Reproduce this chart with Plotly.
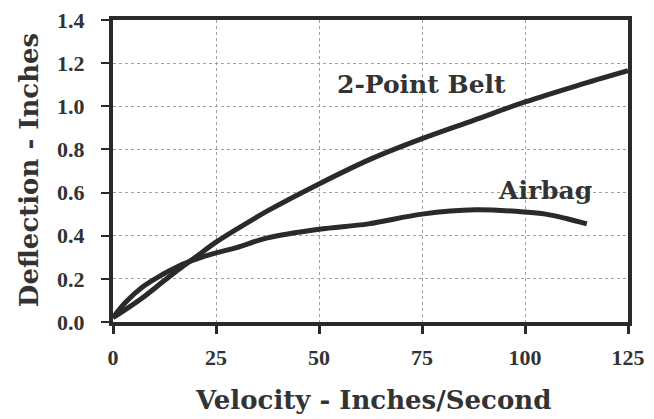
import plotly.graph_objects as go

belt_x = [0, 4, 7, 12, 16, 20, 25, 30, 37.5, 50, 62.5, 75, 87.5, 100, 112.5, 125]
belt_y = [0.02, 0.07, 0.11, 0.185, 0.245, 0.30, 0.37, 0.43, 0.515, 0.64, 0.755, 0.85, 0.935, 1.02, 1.095, 1.165]

airbag_x = [0, 3, 7, 12, 16, 20, 25, 30, 37.5, 50, 62, 75, 88, 100, 105, 110, 115]
airbag_y = [0.02, 0.09, 0.16, 0.22, 0.26, 0.29, 0.32, 0.345, 0.39, 0.43, 0.455, 0.50, 0.52, 0.51, 0.50, 0.48, 0.455]

x_ticks = [0, 25, 50, 75, 100, 125]
y_ticks = [0.0, 0.2, 0.4, 0.6, 0.8, 1.0, 1.2, 1.4]

ink = "#2a2a2a"
txt = "#333333"
tickfont = "Liberation Serif"
titlefont = "DejaVu Serif"

fig = go.Figure()
fig.add_trace(go.Scatter(x=belt_x, y=belt_y, mode="lines", line=dict(color=ink, width=5, shape="spline"),
                         name="2-Point Belt", showlegend=False))
fig.add_trace(go.Scatter(x=airbag_x, y=airbag_y, mode="lines", line=dict(color=ink, width=5, shape="spline"),
                         name="Airbag", showlegend=False))

fig.add_annotation(x=74.8, y=1.10, text="<b>2-Point Belt</b>", showarrow=False,
                   xanchor="center", yanchor="middle",
                   font=dict(family=titlefont, size=25, color=txt))
fig.add_annotation(x=104.9, y=0.61, text="<b>Airbag</b>", showarrow=False,
                   xanchor="center", yanchor="middle",
                   font=dict(family=titlefont, size=25, color=txt))

# axis titles
fig.add_annotation(xref="paper", yref="paper", x=0.505, y=-0.258, text="<b>Velocity - Inches/Second</b>",
                   showarrow=False, xanchor="center", yanchor="middle",
                   font=dict(family=titlefont, size=26, color=txt))
fig.add_annotation(xref="paper", yref="paper", x=-0.163, y=0.503, text="<b>Deflection - Inches</b>",
                   showarrow=False, textangle=-90, xanchor="center", yanchor="middle",
                   font=dict(family=titlefont, size=26, color=txt))

fig.update_layout(
    width=646, height=411,
    margin=dict(l=105, r=26, t=12, b=97),
    plot_bgcolor="white", paper_bgcolor="white",
    font=dict(family=tickfont, color=txt),
)
fig.update_xaxes(
    range=[0, 125], tickvals=x_ticks, ticktext=["<b>%d</b>" % v for v in x_ticks],
    showline=True, linecolor=ink, linewidth=4, mirror=True,
    ticks="outside", ticklen=8, tickwidth=3, tickcolor=ink,
    showgrid=True, gridcolor="#a0a0a0", gridwidth=1, griddash="dot",
    zeroline=False, automargin=False, ticklabelstandoff=5, ticklabeloverflow="allow",
    tickfont=dict(family=tickfont, size=22, color=txt),
)
fig.update_yaxes(
    range=[0, 1.4], tickvals=y_ticks, ticktext=["<b>%.1f</b>" % v for v in y_ticks],
    showline=True, linecolor=ink, linewidth=4, mirror=True,
    ticks="outside", ticklen=8, tickwidth=2, tickcolor=ink,
    showgrid=True, gridcolor="#a0a0a0", gridwidth=1, griddash="dot",
    zeroline=False, automargin=False, ticklabelstandoff=12, ticklabeloverflow="allow",
    tickfont=dict(family=tickfont, size=22, color=txt),
)

fig.write_html("out.html")
